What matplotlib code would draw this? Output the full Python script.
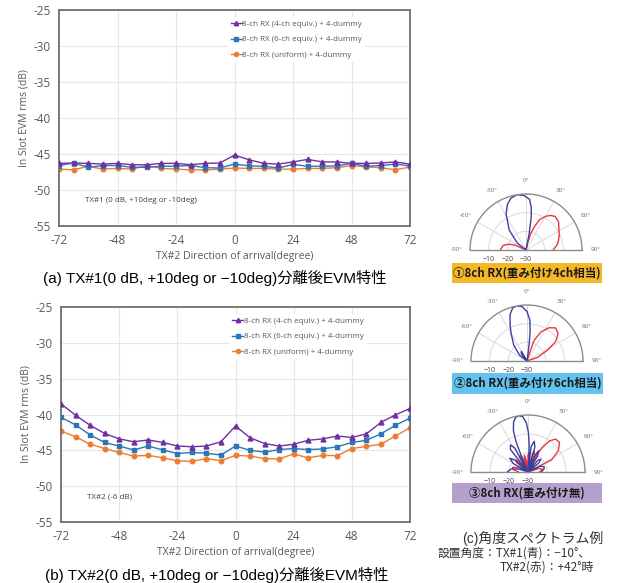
import numpy as np
import matplotlib
matplotlib.use("Agg")
import matplotlib.pyplot as plt
from matplotlib.patches import Rectangle

plt.rcParams['font.family'] = ['Open Sans', 'Noto Sans CJK JP', 'DejaVu Sans']
plt.rcParams['axes.unicode_minus'] = False

W, H = 627, 583

# --- EVM data (TX#2 direction of arrival, degree) ---
doa = [-72, -66, -60, -54, -48, -42, -36, -30, -24, -18, -12, -6, 0,
       6, 12, 18, 24, 30, 36, 42, 48, 54, 60, 66, 72]

# (a) TX#1 after separation
a_4ch = [-46.3, -46.25, -46.3, -46.4, -46.3, -46.5, -46.5, -46.3, -46.3, -46.5, -46.3, -46.25, -45.15,
         -45.8, -46.3, -46.4, -46.1, -45.75, -46.1, -46.1, -46.3, -46.3, -46.25, -46.1, -46.4]
a_6ch = [-46.6, -46.25, -46.85, -46.6, -46.6, -46.85, -46.85, -46.7, -46.7, -46.6, -46.9, -46.95, -46.4,
         -46.65, -46.7, -46.95, -46.45, -46.7, -46.7, -46.65, -46.3, -46.7, -46.6, -46.4, -46.65]
a_uni = [-47.1, -47.2, -46.7, -47.1, -47.0, -47.1, -46.6, -47.0, -47.1, -47.2, -47.2, -47.1, -46.95,
         -47.0, -47.0, -47.1, -47.1, -47.0, -47.0, -46.9, -46.6, -46.8, -46.9, -47.2, -46.8]

# (b) TX#2 after separation
b_4ch = [-38.5, -40.1, -41.5, -42.65, -43.4, -43.8, -43.55, -43.9, -44.4, -44.5, -44.4, -43.8, -41.6,
         -43.25, -44.05, -44.4, -44.15, -43.6, -43.4, -43.0, -43.2, -42.7, -41.1, -40.05, -39.15]
b_6ch = [-40.4, -41.45, -42.85, -43.9, -44.4, -44.95, -44.4, -44.95, -45.45, -45.3, -45.4, -45.65, -44.4,
         -45.0, -45.25, -44.9, -44.75, -44.9, -44.8, -44.5, -43.9, -43.6, -42.7, -41.5, -40.5]
b_uni = [-42.3, -43.1, -44.15, -44.75, -45.3, -45.8, -45.7, -46.05, -46.45, -46.55, -46.15, -46.45, -45.7,
         -45.8, -46.15, -46.2, -45.5, -46.05, -45.7, -45.75, -44.75, -44.45, -44.15, -43.0, -41.85]

series_labels = ['8-ch RX (4-ch equiv.) + 4-dummy',
                 '8-ch RX (6-ch equiv.) + 4-dummy',
                 '8-ch RX (uniform) + 4-dummy']

# --- angle spectrum outlines (angle deg, level dB), TX#1 blue / TX#2 red ---
p1_blue_ang = [-90, -60, -51, -40, -29, -22, -16, -9, -2, 4, 7, 9, 11, 14, 90]
p1_blue_db = [-30, -30, -24, -16, -8, -3.5, -1, 0, -0.8, -2.8, -7, -12, -21, -30, -30]
p1_red_ang = [-90, -79, -72, -66, -62, 10, 13.5, 16, 19.7, 24, 30.6, 35.6, 41, 49.4, 59, 66, 73.5, 81, 90]
p1_red_db = [-16.2, -17.5, -20, -23.4, -30, -30, -26, -21, -16.9, -12.2, -9, -7.2, -6.2, -7, -9.4, -10.5,
             -11.8, -13.2, -15.5]

p2_blue_ang = [-90, -60, -52, -40, -30, -25, -20, -15, -10, -5, 0, 4, 6, 7, 8, 10,
               -25, -30, -38, -42]
p2_blue_db = [-30, -30, -25, -19, -13, -8.5, -3.5, -0.5, 0, -0.8, -3.5, -8, -14, -20, -26, -30,
              -30, -24, -25, -30]
p2_red_ang = [0, 17, 19, 25.5, 33.6, 40.7, 48.6, 56, 62, 71, 85, 90]
p2_red_db = [-30, -27.5, -18.3, -12.8, -8.6, -6.6, -7.8, -11.5, -17.6, -24, -30, -30]

p3_blue_ang = [-90, -80, -72, -67.5, -60, -53, -47, -42.5, -38, -33, -29, -25.4,
               -22.5, -21.5, -19.5, -16, -12.5, -9, -5.5, -2, 0.5, 2.3, 3.5, 4.4,
               7, 11.5, 15.5, 19.3, 23, 27, 31, 35.4, 40, 45, 50, 56.5, 64, 72, 80, 90]
p3_blue_db = [-19, -21, -25, -30, -21, -18, -21, -30, -15, -13, -15.5, -30,
              -20, -13, -7, -2.5, -0.5, 0, -0.7, -4, -9, -15, -22, -30,
              -16.5, -13.5, -16.5, -30, -20, -17.5, -20.5, -30, -22, -20.5, -22.5, -30, -23, -21, -21.5, -23]
p3_red_ang = [-90, -80, -73, -64, -56, -50, -45, -40, -35.5, -30, -26, -22, -19.3, -15, -12, -8, -4.6,
              0, 3, 6.5, 9.7, 14, 17, 20.5, 24, 27, 30.4, 34.8, 40, 46.8, 54.8, 62.8, 67, 72, 80, 90]
p3_red_db = [-25, -22, -21.5, -25, -30, -22, -21, -24, -30, -21, -20.5, -23, -30, -22, -21, -24, -30,
             -21, -20, -23, -30, -20, -18.5, -21, -30, -19, -15, -10, -7.4, -7.2, -10.5, -16, -30,
             -24, -22, -24]


def fig_rect(x0, y0, x1, y1):
    # pixel box (top-left origin) -> figure fraction rect
    return [x0 / W, 1 - y1 / H, (x1 - x0) / W, (y1 - y0) / H]


def evm_chart(ax, s4, s6, su, note):
    ax.plot(doa, s4, color='#7030A0', marker='^', ms=3.5, lw=1.0, label=series_labels[0], zorder=4)
    ax.plot(doa, s6, color='#2E75B6', marker='s', ms=3.3, lw=1.0, label=series_labels[1], zorder=3)
    ax.plot(doa, su, color='#ED7D31', marker='o', ms=3.3, lw=1.0, label=series_labels[2], zorder=2)
    ax.set_xlim(-72, 72)
    ax.set_ylim(-55, -25)
    ax.set_xticks([-72, -48, -24, 0, 24, 48, 72])
    ax.set_yticks(range(-55, -24, 5))
    ax.tick_params(length=0, labelsize=8.5, labelcolor='#595959', pad=6)
    ax.grid(True, color='#e6e6e6', lw=0.8)
    ax.set_axisbelow(True)
    for s in ax.spines.values():
        s.set_color('#707070')
        s.set_linewidth(1.3)
    ax.set_xlabel('TX#2 Direction of arrival(degree)', fontsize=7.5, color='#595959', labelpad=3)
    ax.set_ylabel('In Slot EVM rms (dB)', fontsize=7.5, color='#595959', labelpad=3)
    ax.text(0.074, 0.11, note, transform=ax.transAxes, fontsize=5.8, color='#404040')
    leg = ax.legend(loc='upper left', bbox_to_anchor=(0.47, 0.985), fontsize=5.8,
                    frameon=True, framealpha=1, edgecolor='none', handlelength=1.3,
                    handletextpad=0.1, labelspacing=0.95, borderpad=0.4, markerscale=0.9)
    for t in leg.get_texts():
        t.set_color('#595959')


fig = plt.figure(figsize=(W / 100, H / 100), dpi=100)

ax_a = fig.add_axes(fig_rect(59, 10, 410, 226))
evm_chart(ax_a, a_4ch, a_6ch, a_uni, 'TX#1 (0 dB, +10deg or -10deg)')
ax_b = fig.add_axes(fig_rect(61, 307, 410, 522))
evm_chart(ax_b, b_4ch, b_6ch, b_uni, 'TX#2 (-6 dB)')

cap_font = ['Liberation Sans', 'Noto Sans CJK JP']
fig.text(215 / W, 1 - 278 / H, '(a) TX#1(0 dB, +10deg or \u221210deg)分離後EVM特性',
         ha='center', va='center', fontsize=11, family=cap_font)
fig.text(217 / W, 1 - 575 / H, '(b) TX#2(0 dB, +10deg or \u221210deg)分離後EVM特性',
         ha='center', va='center', fontsize=11, family=cap_font)

# --- angle spectrum polar plots ---
polars = [
    ((526, 250, 56), p1_blue_ang, p1_blue_db, p1_red_ang, p1_red_db),
    ((527, 361, 56), p2_blue_ang, p2_blue_db, p2_red_ang, p2_red_db),
    ((528, 472, 57), p3_blue_ang, p3_blue_db, p3_red_ang, p3_red_db),
]
for (cx, cy, R), b_ang, b_db, r_ang, r_db in polars:
    # half-disc sits in a square box, center at 1/4 height from bottom
    pax = fig.add_axes(fig_rect(cx - R, cy - 1.5 * R, cx + R, cy + 0.5 * R), projection='polar')
    pax.patch.set_alpha(0)
    pax.set_theta_zero_location('N')
    pax.set_theta_direction(-1)
    pax.set_thetamin(-90)
    pax.set_thetamax(90)
    pax.set_rlim(-30, 0)
    pax.set_rgrids([-20, -10], labels=['', ''])
    pax.set_thetagrids(range(-90, 91, 30), labels=[f'{t}°' for t in range(-90, 91, 30)],
                       fontsize=4.5, color='#707070')
    pax.tick_params(pad=-1)
    pax.grid(True, color='#d9d9d9', lw=0.7)
    for s in pax.spines.values():
        s.set_color('#8c8c8c')
        s.set_linewidth(1.0)
    pax.plot(np.deg2rad(r_ang), r_db, color='#E8383D', lw=1.0)
    pax.plot(np.deg2rad(b_ang), b_db, color='#3D3F9E', lw=1.0)
    for lv in (-10, -20, -30):
        pax.annotate(f'\u2212{-lv}', xy=(np.deg2rad(-90), lv), xytext=(0, -7),
                     textcoords='offset points', ha='center', va='center', fontsize=5,
                     color='#404040', annotation_clip=False)

boxes = [
    ((452, 263, 602, 283), '#F4B827', '①8ch RX(重み付け4ch相当)'),
    ((452, 373, 603, 394), '#63C3EE', '②8ch RX(重み付け6ch相当)'),
    ((452, 483, 602, 503), '#B59FCC', '③8ch RX(重み付け無)'),
]
for (x0, y0, x1, y1), col, txt in boxes:
    fig.patches.append(Rectangle((x0 / W, 1 - y1 / H), (x1 - x0) / W, (y1 - y0) / H,
                                 transform=fig.transFigure, facecolor=col, edgecolor='none'))
    fig.text((x0 + x1) / 2 / W, 1 - (y0 + y1) / 2 / H, txt, ha='center', va='center',
             fontsize=8.3, fontweight='bold', family=['Noto Sans CJK JP'], color='#1a1a1a')

fig.text(533 / W, 1 - 538 / H, '(c)角度スペクトラム例', ha='center', va='center',
         fontsize=10, family=cap_font, color='#333333')
fig.text(437 / W, 1 - 553 / H, '設置角度：TX#1(青)：\u221210°、', ha='left', va='center',
         fontsize=8.5, family=['Noto Sans CJK JP'], color='#333333')
fig.text(500 / W, 1 - 567 / H, 'TX#2(赤)：+42°時', ha='left', va='center',
         fontsize=8.5, family=['Noto Sans CJK JP'], color='#333333')

fig.savefig('out.png', dpi=100)
